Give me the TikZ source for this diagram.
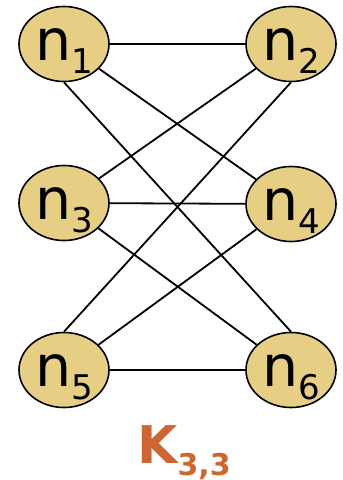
\documentclass[tikz,border=0pt]{standalone}
\usepackage{fontspec}
\setmainfont{DejaVu Sans}
\usepackage{tikz}
\usetikzlibrary{shapes.geometric}
\definecolor{vertexfill}{RGB}{230,206,132}
\definecolor{graphtitle}{RGB}{204,102,51}
% vertex name with a lowered index
\newcommand{\vname}[1]{n\raisebox{-13pt}{\fontsize{34}{34}\selectfont #1}}

\begin{document}
\begin{tikzpicture}[
 x=1pt,y=-1pt,
 vertex/.style={ellipse,draw=black,line width=1.6pt,fill=vertexfill,minimum width=90pt,minimum height=75pt,inner sep=0pt,font=\fontsize{57}{57}\selectfont,text height=32pt,text depth=0pt},
 edge/.style={line width=1.8pt,black}
]
\useasboundingbox (0,0) rectangle (343,480);
\node[vertex] (n1) at (64,44) {\vname{1}};
\node[vertex] (n2) at (291,44) {\vname{2}};
\node[vertex] (n3) at (64,203) {\vname{3}};
\node[vertex] (n4) at (291,204) {\vname{4}};
\node[vertex] (n5) at (64,370) {\vname{5}};
\node[vertex] (n6) at (291,370) {\vname{6}};
% every n_odd joined to every n_even
\draw[edge] (n1)--(n2);\draw[edge] (n1)--(n4);\draw[edge] (n1.south)--(n6.north);
\draw[edge] (n3)--(n2);\draw[edge] (n3)--(n4);\draw[edge] (n3)--(n6);
\draw[edge] (n5.north)--(n2.south);\draw[edge] (n5)--(n4);\draw[edge] (n5)--(n6);
\node[font=\fontsize{52}{52}\selectfont\bfseries,text=graphtitle,text height=30pt,text depth=0pt,inner sep=0pt] (k33) at (184,448) {K\raisebox{-12pt}{\fontsize{30}{30}\selectfont 3,3}};
\end{tikzpicture}
\end{document}
